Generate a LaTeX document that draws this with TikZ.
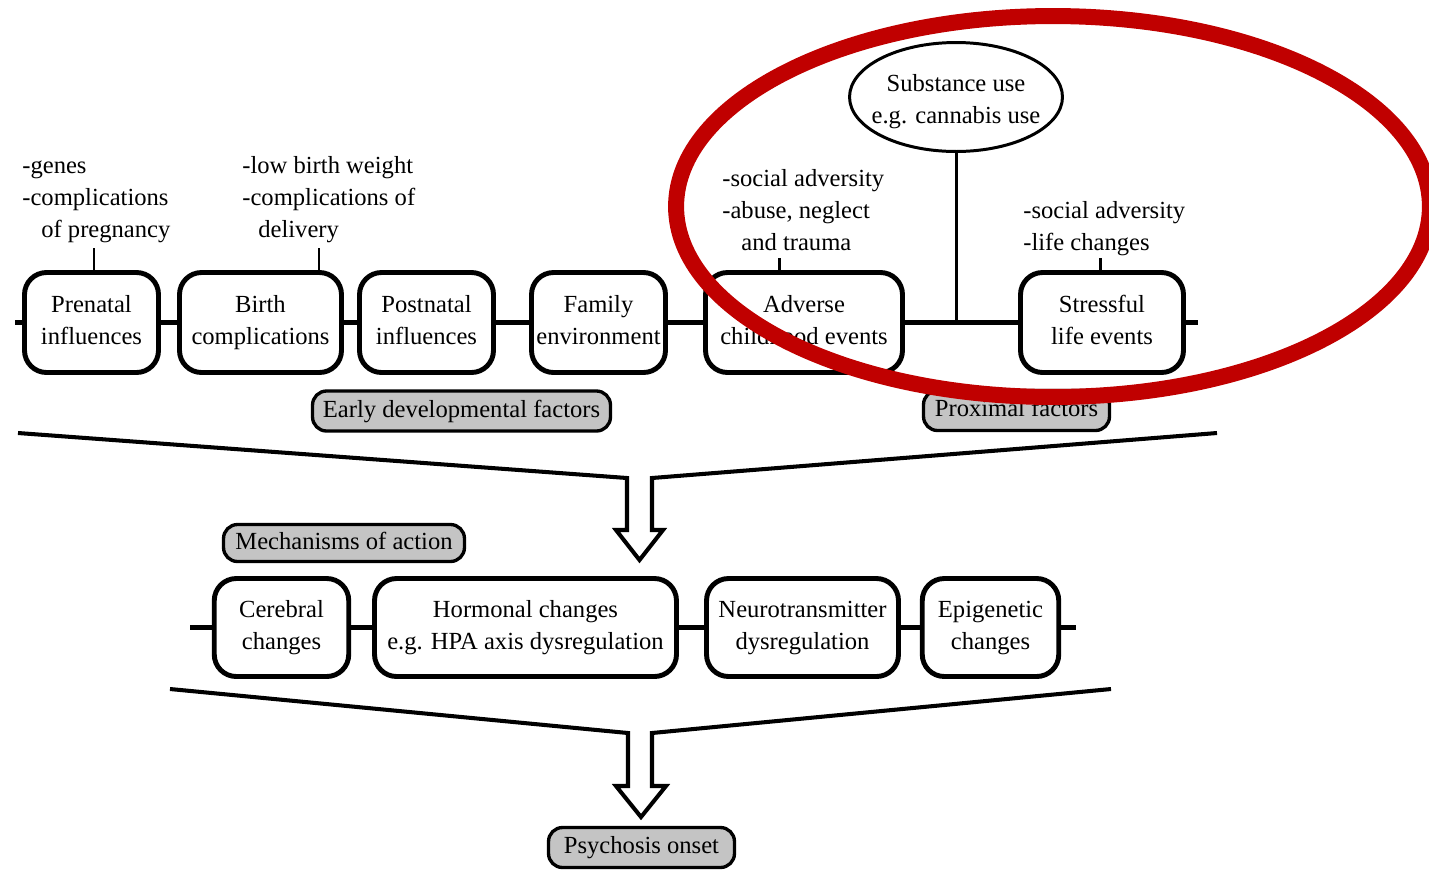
\documentclass[tikz,border=0pt]{standalone}
\usepackage{fontspec}
\setmainfont{Liberation Serif}
\usetikzlibrary{shapes.geometric}
\definecolor{lblgray}{RGB}{196,196,196}
\definecolor{markred}{RGB}{192,0,0}
\tikzset{
  every node/.style={font=\fontsize{14}{18.2}\selectfont},
  factor/.style={draw, line width=2.8pt, rounded corners=0.44cm, fill=white, align=center, inner sep=0pt, minimum height=2.0cm},
  mech/.style={factor, minimum height=1.96cm},
  tag/.style={draw, line width=1.9pt, rounded corners=0.28cm, fill=lblgray, inner sep=0pt, minimum height=0.8cm},
  note/.style={align=left, anchor=north west, inner sep=0pt},
  link/.style={line width=2.3pt},
  tick/.style={line width=1.7pt},
  funnel/.style={line width=2.3pt, line join=miter},
  oval/.style={draw, ellipse, line width=1.7pt, fill=white, minimum width=4.26cm, minimum height=2.18cm, inner sep=0pt},
  marker/.style={draw=markred, line width=0.32cm},
}
\begin{document}
\begin{tikzpicture}[x=0.02cm, y=-0.02cm]
\useasboundingbox (0,0) rectangle (1429,873);
\clip (0,0) rectangle (1429,873);

% top row: factors
\node[factor, minimum width=2.68cm] (pren)   at (91.5,322.5)  {\strut Prenatal\\\strut influences};
\node[factor, minimum width=3.24cm] (birth)  at (260.5,322.5) {\strut Birth\\\strut complications};
\node[factor, minimum width=2.68cm] (post)   at (426.5,322.5) {\strut Postnatal\\\strut influences};
\node[factor, minimum width=2.68cm] (fam)    at (598.5,322.5) {\strut Family\\\strut environment};
\node[factor, minimum width=3.94cm] (adv)    at (804,322.5)   {\strut Adverse\\\strut childhood events};
\node[factor, minimum width=3.26cm] (stress) at (1102,322.5)  {\strut Stressful\\\strut life events};

\coordinate (rowL) at (15,322.5);
\coordinate (rowR) at (1198,322.5);
\draw[link] (rowL) -- (pren.west);
\draw[link] (pren.east) -- (birth.west);
\draw[link] (birth.east) -- (post.west);
\draw[link] (post.east) -- (fam.west);
\draw[link] (fam.east) -- (adv.west);
\draw[link] (adv.east) -- (stress.west);
\draw[link] (stress.east) -- (rowR);

% annotations
\node[note] (n1) at (22,150.6)  {\strut -genes\\\strut -complications\\\hspace*{0.38cm}\strut of pregnancy};
\node[note] (n2) at (242,150.6) {\strut -low birth weight\\\strut -complications of\\\hspace*{0.32cm}\strut delivery};
\node[note] (n3) at (722,163.6) {\strut -social adversity\\\strut -abuse, neglect\\\hspace*{0.38cm}\strut and trauma};
\node[note] (n4) at (1023,195.6) {\strut -social adversity\\\strut -life changes};

\coordinate (t1) at (94,248);
\coordinate (t2) at (319,248);
\coordinate (t3) at (779,258);
\coordinate (t4) at (1100,258);
\draw[tick] (t1) -- (t1 |- pren.north);
\draw[tick] (t2) -- (t2 |- birth.north);
\draw[tick] (t3) -- (t3 |- adv.north);
\draw[tick] (t4) -- (t4 |- stress.north);

% substance use
\node[oval] (subst) at (956,97) {};
\node[align=center, inner sep=0pt, yshift=-0.09cm] (substtxt) at (subst.center) {\strut Substance use\\\strut e.g. cannabis use};
\draw[tick] (subst.south) -- (subst.south |- adv.east);

% group labels
\node[tag, minimum width=5.96cm] (early) at (461.5,411) {\strut Early developmental factors};
\node[tag, minimum width=3.72cm] (prox) at (1016.5,410.5) {\strut Proximal factors};

% funnel 1
\draw[funnel] (18,433) -- (627,478) -- (627,530) -- (616,530) -- (639.5,560) -- (663,530) -- (652,530) -- (652,478) -- (1217,433);

% mechanisms
\node[tag, minimum width=4.82cm, minimum height=0.74cm] (mechs) at (344,543) {\strut Mechanisms of action};
\node[mech, minimum width=2.69cm] (cer)   at (281.5,627.5) {\strut Cerebral\\\strut changes};
\node[mech, minimum width=6.04cm] (horm)  at (525.5,627.5) {\strut Hormonal changes\\\strut e.g. HPA axis dysregulation};
\node[mech, minimum width=3.84cm] (neuro) at (802.5,627.5) {\strut Neurotransmitter\\\strut dysregulation};
\node[mech, minimum width=2.73cm] (epi)   at (990.5,627.5) {\strut Epigenetic\\\strut changes};
\coordinate (mL) at (190,627.5);
\coordinate (mR) at (1076,627.5);
\draw[link] (mL) -- (cer.west);
\draw[link] (cer.east) -- (horm.west);
\draw[link] (horm.east) -- (neuro.west);
\draw[link] (neuro.east) -- (epi.west);
\draw[link] (epi.east) -- (mR);

% funnel 2
\draw[funnel] (170,689) -- (628,733) -- (628,786) -- (616,786) -- (641,817) -- (666,786) -- (652,786) -- (652,733) -- (1111,689);

\node[tag, minimum width=3.72cm] (onset) at (641.5,847.5) {\strut Psychosis onset};

% red highlight
\draw[marker] (1053,206.5) ellipse [x radius=7.54cm, y radius=3.81cm];
\end{tikzpicture}
\end{document}
